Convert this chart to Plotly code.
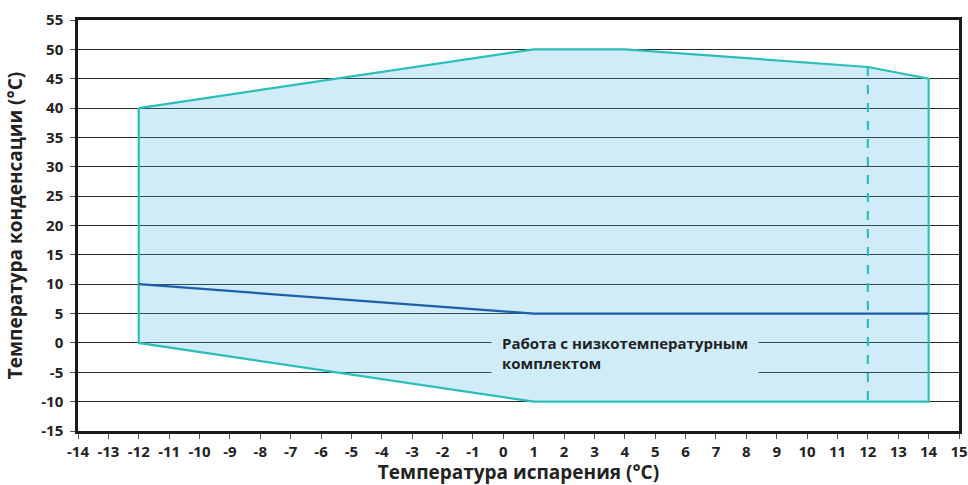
import plotly.graph_objects as go

# Рабочая область (огибающая)
env_x = [-12, 1, 4, 12, 14, 14, 1, -12, -12]
env_y = [40, 50, 50, 47, 45, -10, -10, 0, 40]

# Граница 12 °C (пунктир)
dash_x = [12, 12]
dash_y = [47, -10]

# Нижняя граница без низкотемпературного комплекта
low_x = [-12, 1, 14]
low_y = [10, 5, 5]

x_ticks = list(range(-14, 16))
y_ticks = list(range(-15, 56, 5))

FONT = "Open Sans"
TEAL = "#2cbfba"
BLUE = "#1f5ea8"

fig = go.Figure()

fig.add_trace(go.Scatter(
    x=env_x, y=env_y, mode="lines", fill="toself",
    fillcolor="rgba(67,179,227,0.25)", line=dict(width=0),
    hoverinfo="skip", showlegend=False,
))
fig.add_trace(go.Scatter(
    x=env_x, y=env_y, mode="lines",
    line=dict(color=TEAL, width=2.2), showlegend=False,
))
fig.add_trace(go.Scatter(
    x=dash_x, y=dash_y, mode="lines",
    line=dict(color=TEAL, width=2.2, dash="dash"), showlegend=False,
))
fig.add_trace(go.Scatter(
    x=low_x, y=low_y, mode="lines",
    line=dict(color=BLUE, width=2.2), showlegend=False,
))

fig.add_annotation(
    x=-0.4, y=-1.7, xref="x", yref="y",
    text="<b>Работа с низкотемпературным<br>комплектом</b>",
    showarrow=False, xanchor="left", yanchor="middle", align="left",
    font=dict(family=FONT, size=15, color="#222"),
    bgcolor="#d0ecf8", borderpad=10,
)

tick_font = dict(family=FONT, size=15, color="#222", weight="bold")
title_font = dict(family=FONT, size=19, color="#222", weight="bold")

fig.update_xaxes(
    range=[-14, 15], tickvals=x_ticks, ticktext=[str(v) for v in x_ticks],
    showgrid=False, zeroline=False, automargin=False,
    showline=True, linecolor="#1a1a1a", linewidth=2.5, mirror=True,
    ticks="outside", ticklen=5, tickcolor="#555", tickwidth=1,
    tickfont=tick_font,
    title=dict(text="Температура испарения (°C)", font=title_font, standoff=4),
)
fig.update_yaxes(
    range=[-15, 55], tickvals=y_ticks, ticktext=[str(v) for v in y_ticks],
    showgrid=True, gridcolor="#2a2a2a", gridwidth=1, zeroline=False,
    automargin=False, ticklabelstandoff=4,
    showline=True, linecolor="#1a1a1a", linewidth=2.5, mirror=True,
    ticks="outside", ticklen=5, tickcolor="#555", tickwidth=1,
    tickfont=tick_font,
    title=dict(text="Температура конденсации (°C)", font=title_font, standoff=14),
)

fig.update_layout(
    width=968, height=485,
    margin=dict(l=78, r=9, t=20, b=54),
    plot_bgcolor="white", paper_bgcolor="white",
    font=dict(family=FONT),
)

# убрать отступ body, чтобы график занимал окно целиком
fig.write_html("out.html", config={"displayModeBar": False},
               post_script="document.body.style.margin='0';")
